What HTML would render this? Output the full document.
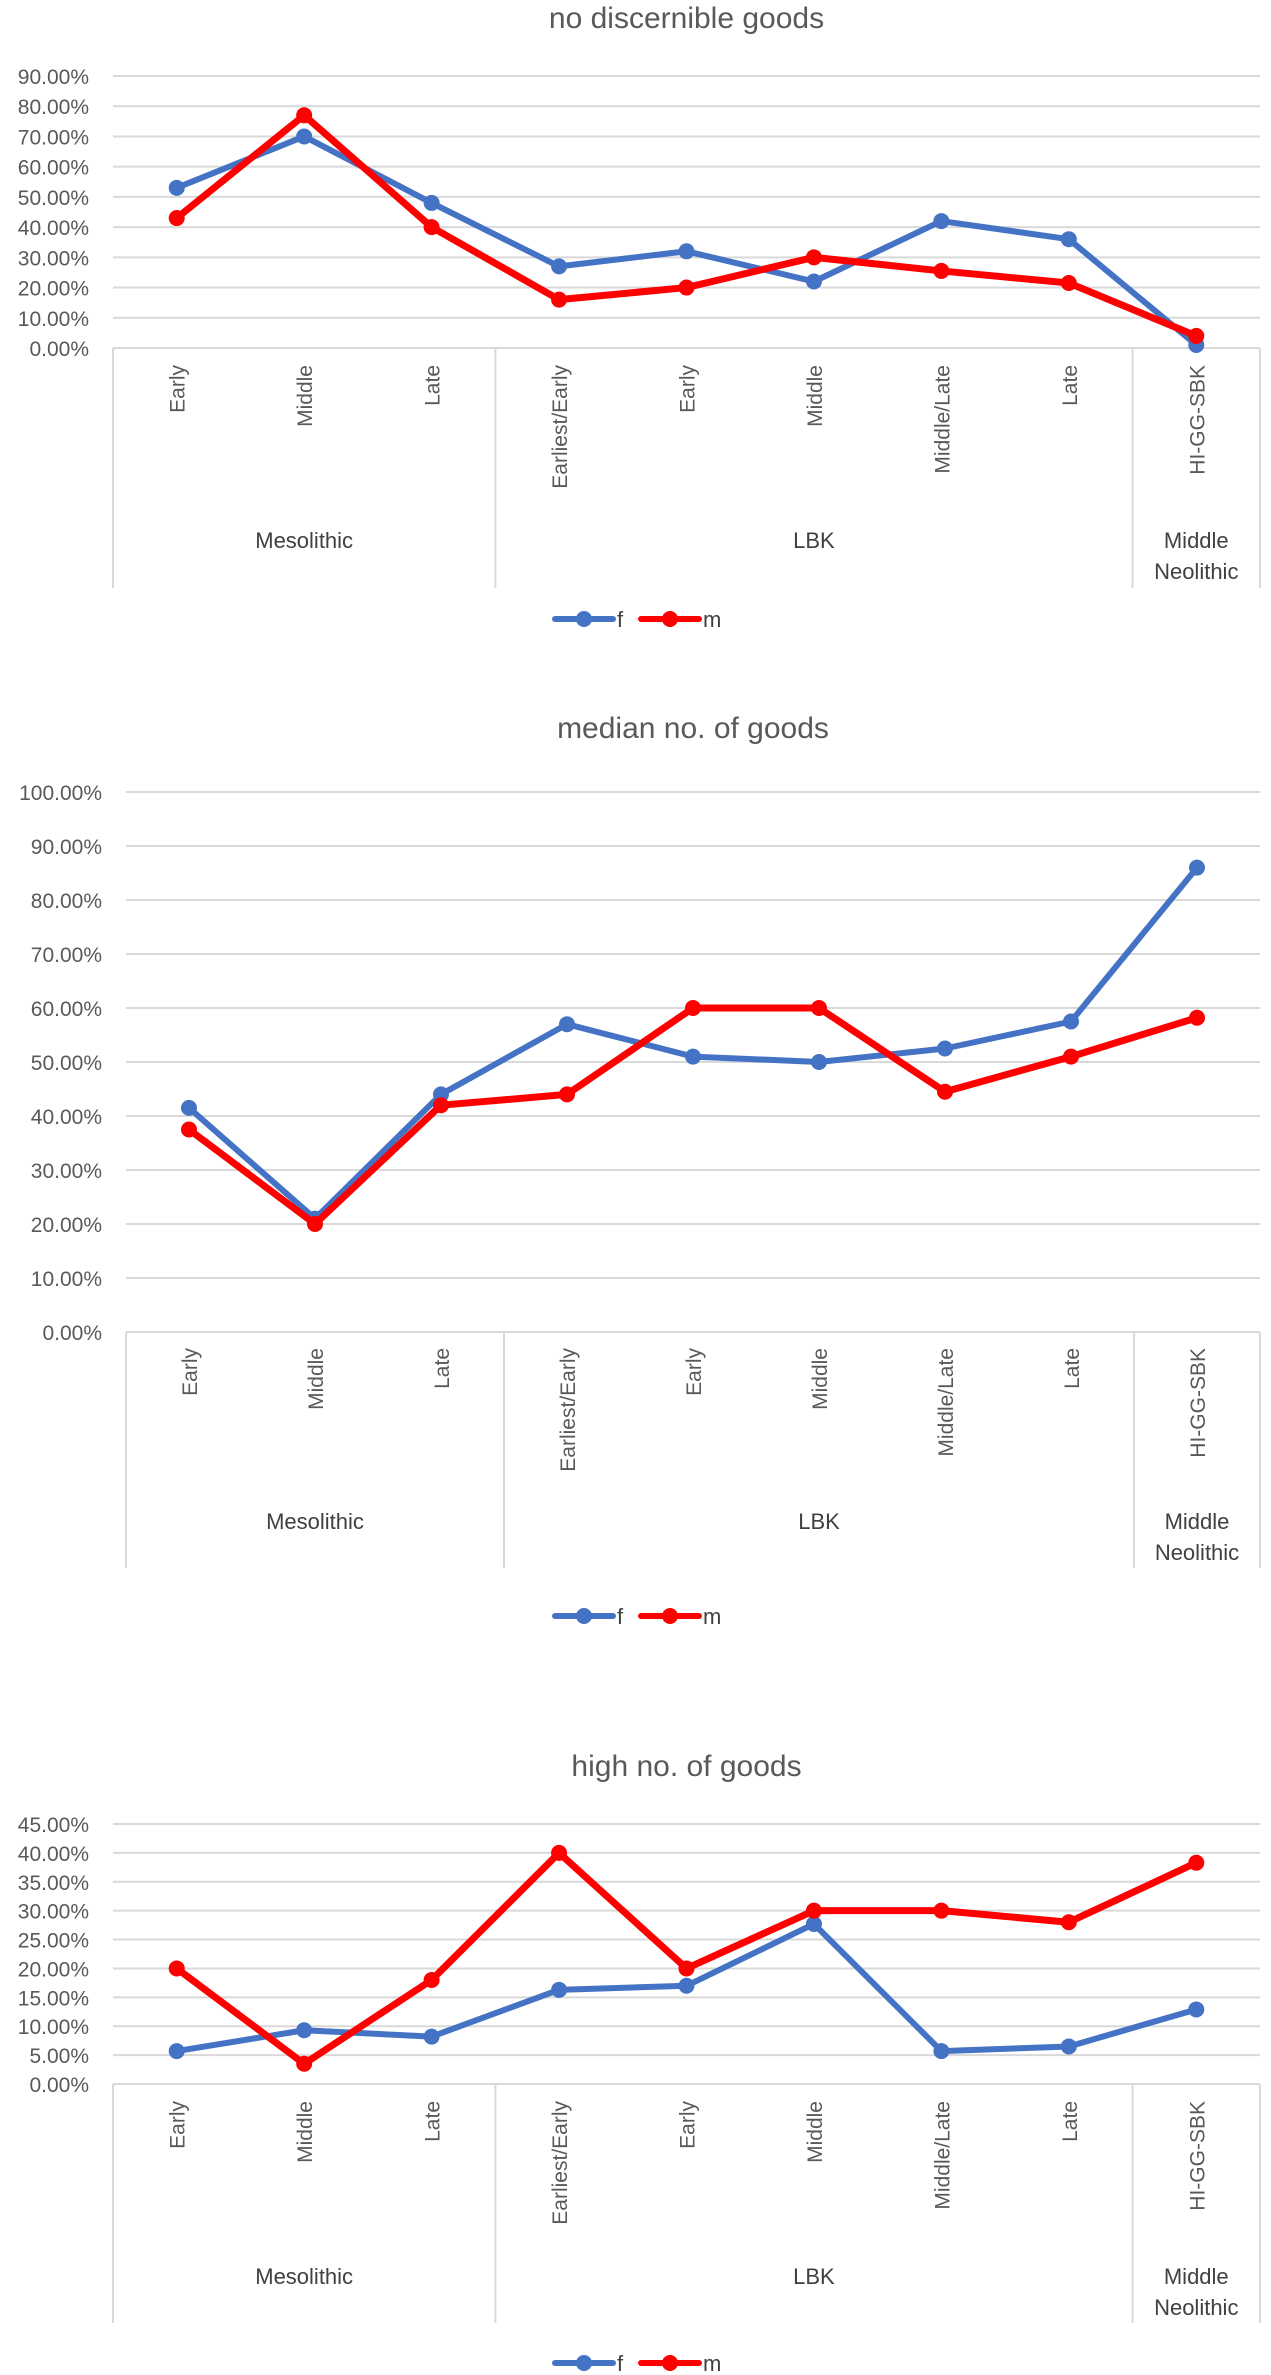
<!DOCTYPE html>
<html><head><meta charset="utf-8"><style>
html,body{margin:0;padding:0;background:#fff;}
svg{display:block;font-family:"Liberation Sans",sans-serif;}
</style></head><body>
<svg id="root" width="1271" height="2375" viewBox="0 0 1271 2375" xmlns="http://www.w3.org/2000/svg"></svg>
<script>
const categories = ["Early","Middle","Late","Earliest/Early","Early","Middle","Middle/Late","Late","HI-GG-SBK"];
const groups = ["Mesolithic","LBK","Middle Neolithic"];
const groupSizes = [3,5,1];
const title1 = "no discernible goods";
const f1 = [53,70,48,27,32,22,42,36,1];
const m1 = [43,77,40,16,20,30,25.5,21.5,4];
const ticks1 = [0,10,20,30,40,50,60,70,80,90];
const title2 = "median no. of goods";
const f2 = [41.5,21,44,57,51,50,52.5,57.5,86];
const m2 = [37.5,20,42,44,60,60,44.5,51,58.2];
const ticks2 = [0,10,20,30,40,50,60,70,80,90,100];
const title3 = "high no. of goods";
const f3 = [5.7,9.3,8.2,16.3,17,27.7,5.7,6.5,12.9];
const m3 = [20,3.5,18,40,20,30,30,28,38.3];
const ticks3 = [0,5,10,15,20,25,30,35,40,45];

const NS="http://www.w3.org/2000/svg";
const root=document.getElementById('root');
function mk(tag,attrs,parent){const e=document.createElementNS(NS,tag);for(const k in attrs)e.setAttribute(k,attrs[k]);(parent||root).appendChild(e);return e;}

function drawChart(cfg,title,fv,mv,ticks,id){
  const g=mk('g',{});
  
  
  const L=cfg.left,R=1260,T=cfg.top,B=cfg.bottom;
  const maxV=ticks[ticks.length-1];
  const y=v=>B-(v/maxV)*(B-T);
  const cw=(R-L)/categories.length;
  const x=i=>L+cw*(i+0.5);
  const t=mk('text',{x:(L+R)/2,y:cfg.titleY,'text-anchor':'middle','font-size':30,fill:'#595959'},g);
  t.textContent=title;
  
  
  ticks.forEach(v=>{
    const ln=mk('line',{x1:L,x2:R,y1:y(v),y2:y(v),stroke:'#d9d9d9','stroke-width':2},g);
    
    
    const tl=mk('text',{x:L-24,y:y(v)+8,'text-anchor':'end','font-size':21,fill:'#595959'},g);
    tl.textContent=v.toFixed(2)+'%';
    
    
  });
  // group separators
  let idx=0;const seps=[0];
  groupSizes.forEach(s=>{idx+=s;seps.push(idx);});
  seps.forEach(k=>{
    const sx=L+cw*k;
    const sl=mk('line',{x1:sx,x2:sx,y1:B,y2:cfg.sepEnd,stroke:'#d9d9d9','stroke-width':2},g);
    
    
  });
  categories.forEach((c,i)=>{
    const ct=mk('text',{x:0,y:0,'text-anchor':'end','font-size':21,fill:'#595959',transform:`translate(${x(i)+8},${cfg.labelTop}) rotate(-90)`},g);
    ct.textContent=c;
    
    
  });
  groups.forEach((gn,k)=>{
    const cx=L+cw*(seps[k]+seps[k+1])/2;
    const words=gn==="Middle Neolithic"?["Middle","Neolithic"]:[gn];
    words.forEach((w,j)=>{
      const gt=mk('text',{x:cx,y:cfg.groupY+8+j*31,'text-anchor':'middle','font-size':22,fill:'#404040'},g);
      gt.textContent=w;
      
      
    });
  });
  [[fv,'#4472C4',6,'series-f'],[mv,'#FF0000',7,'series-m']].forEach(([vals,col,w,nm])=>{
    const pl=mk('polyline',{points:vals.map((v,i)=>x(i)+','+y(v)).join(' '),fill:'none',stroke:col,'stroke-width':w,'stroke-linejoin':'round'},g);
    
    
    vals.forEach((v,i)=>{
      const c=mk('circle',{cx:x(i),cy:y(v),r:8,fill:col},g);
      
      
    });
  });
  const ly=cfg.legendY;
  [[555,'#4472C4','f'],[641,'#FF0000','m']].forEach(([lx,col,lab])=>{
    const lg=mk('g',{},g);
    
    
    mk('line',{x1:lx,x2:lx+58,y1:ly,y2:ly,stroke:col,'stroke-width':6,'stroke-linecap':'round'},lg);
    mk('circle',{cx:lx+29,cy:ly,r:8,fill:col},lg);
    const tx=mk('text',{x:lx+62,y:ly+8,'font-size':22,fill:'#404040'},lg);
    tx.textContent=lab;
  });
}
drawChart({left:113,top:76,bottom:348,titleY:28,labelTop:365,groupY:540,sepEnd:588,legendY:619},title1,f1,m1,ticks1,'chart-no-discernible-goods');
drawChart({left:126,top:792,bottom:1332,titleY:738,labelTop:1348,groupY:1521,sepEnd:1568,legendY:1616},title2,f2,m2,ticks2,'chart-median-goods');
drawChart({left:113,top:1824,bottom:2084,titleY:1776,labelTop:2101,groupY:2276,sepEnd:2323,legendY:2363},title3,f3,m3,ticks3,'chart-high-goods');
</script>
</body></html>
